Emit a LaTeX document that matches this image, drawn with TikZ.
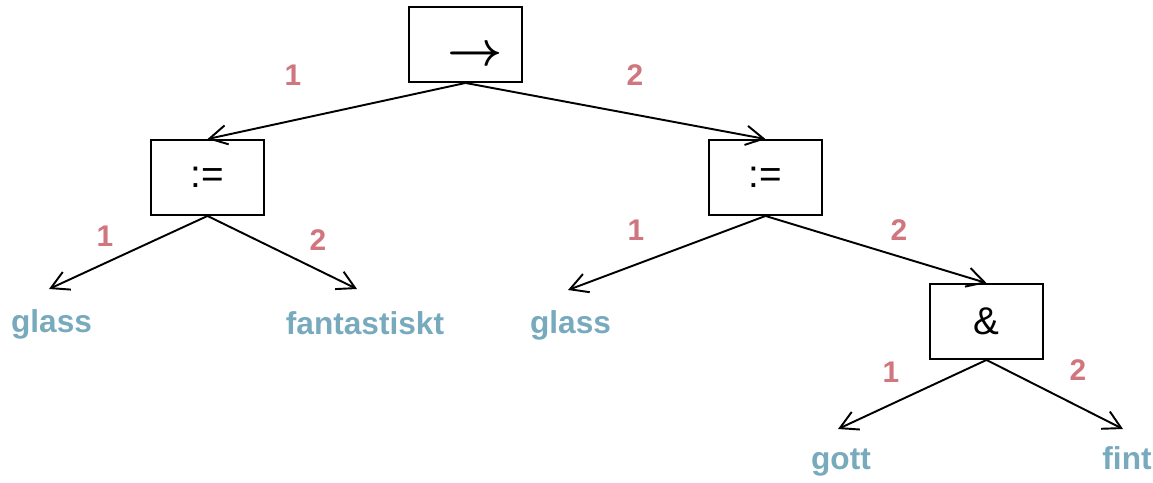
\documentclass[tikz,border=0pt]{standalone}
\usepackage{fontspec}
\setmainfont{Liberation Sans}
\usetikzlibrary{arrows.meta}
\definecolor{edgenum}{RGB}{208,118,126}
\definecolor{leafblue}{RGB}{120,170,190}
\begin{document}
\begin{tikzpicture}[x=0.02cm,y=-0.02cm,
  opbox/.style={draw,line width=1.1pt,minimum width=2.26cm,minimum height=1.5cm,
    inner sep=0pt,font=\fontsize{22}{24}\selectfont},
  leaf/.style={anchor=base,text=leafblue,font=\bfseries\fontsize{18}{20}\selectfont,inner sep=0pt},
  num/.style={text=edgenum,font=\bfseries\fontsize{17}{19}\selectfont,inner sep=0pt},
  edge/.style={line width=1.1pt,-{Straight Barb[length=10pt,width=11pt,line width=1.1pt]}}]
  \useasboundingbox (0,0) rectangle (1153,483);

  % operator boxes
  \node[opbox] (root) at (465.5,44.5) {};
  \node[inner sep=0pt,font={\fontsize{24.88}{26}\selectfont\mathversion{bold}}] (rootsym) at (475,56)
    {\scalebox{1.1}{$\rightarrow$}};
  \node[opbox] (asgA) at (207.5,177.5) {:=};
  \node[opbox] (asgB) at (765.5,177.5) {:=};
  \node[opbox] (conj) at (986.5,321.5) {\&};

  % leaves
  \node[leaf] (glassA) at (51.5,332) {glass};
  \node[leaf] (fant)   at (365,334) {fantastiskt};
  \node[leaf] (glassB) at (570.5,333) {glass};
  \node[leaf] (gott)   at (841,469) {gott};
  \node[leaf] (fint)   at (1127,469) {fint};

  % arrow ends above the leaves
  \coordinate (glassA-in) at (49,289);
  \coordinate (fant-in)   at (357,289);
  \coordinate (glassB-in) at (568,290);
  \coordinate (gott-in)   at (838,429);
  \coordinate (fint-in)   at (1123,429);

  % connectors
  \draw[edge] (root.south) -- (asgA.north);
  \draw[edge] (root.south) -- (asgB.north);
  \draw[edge] (asgA.south) -- (glassA-in);
  \draw[edge] (asgA.south) -- (fant-in);
  \draw[edge] (asgB.south) -- (glassB-in);
  \draw[edge] (asgB.south) -- (conj.north);
  \draw[edge] (conj.south) -- (gott-in);
  \draw[edge] (conj.south) -- (fint-in);

  % argument numbers
  \node[num] (n1) at (293,75) {1};
  \node[num] (n2) at (635,75) {2};
  \node[num] (n3) at (105,236) {1};
  \node[num] (n4) at (318,240) {2};
  \node[num] (n5) at (636,230) {1};
  \node[num] (n6) at (899,230) {2};
  \node[num] (n7) at (891,372) {1};
  \node[num] (n8) at (1078,370) {2};
\end{tikzpicture}
\end{document}
